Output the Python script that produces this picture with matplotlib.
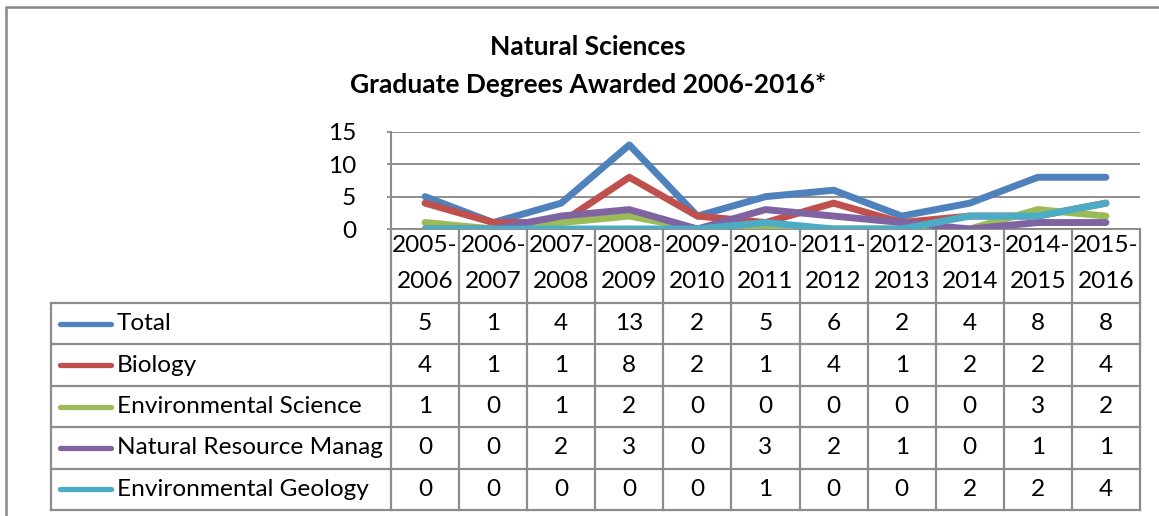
import matplotlib
matplotlib.use('Agg')
import matplotlib.pyplot as plt

plt.rcParams['font.family'] = ['Lato', 'DejaVu Sans']

# data
years = ['2005-\n2006', '2006-\n2007', '2007-\n2008', '2008-\n2009', '2009-\n2010', '2010-\n2011',
         '2011-\n2012', '2012-\n2013', '2013-\n2014', '2014-\n2015', '2015-\n2016']
total = [5, 1, 4, 13, 2, 5, 6, 2, 4, 8, 8]
biology = [4, 1, 1, 8, 2, 1, 4, 1, 2, 2, 4]
env_science = [1, 0, 1, 2, 0, 0, 0, 0, 0, 3, 2]
nat_resource = [0, 0, 2, 3, 0, 3, 2, 1, 0, 1, 1]
env_geology = [0, 0, 0, 0, 0, 1, 0, 0, 2, 2, 4]

series_names = ['Total', 'Biology', 'Environmental Science', 'Natural Resource Manag', 'Environmental Geology']
series_vals = [total, biology, env_science, nat_resource, env_geology]
colors = ['#4F81BD', '#C0504D', '#9BBB59', '#8064A2', '#4BACC6']

W, H = 1159, 516
fig = plt.figure(figsize=(W / 100, H / 100), dpi=100)

# overlay in pixel coords for the table and frame
ov = fig.add_axes([0, 0, 1, 1])
ov.set_xlim(0, W)
ov.set_ylim(H, 0)
ov.axis('off')

grid_c = '#868686'
line_c = '#8c8c8c'
fs = 17.6

# outer chart border (runs off the right and bottom)
ov.plot([6, 6, W + 10], [H + 10, 7, 7], color=grid_c, lw=1.8, solid_capstyle='butt')

# title
ov.text(588, 47, 'Natural Sciences', ha='center', va='center', fontsize=19, fontweight='bold')
ov.text(588, 85, 'Graduate Degrees Awarded 2006-2016*', ha='center', va='center', fontsize=19,
        fontweight='bold')

# plot area
left, right, top, bottom = 391, 1140, 132, 229
ax = fig.add_axes([left / W, 1 - bottom / H, (right - left) / W, (bottom - top) / H])
n = len(years)
for vals, c in zip(series_vals, colors):
    ax.plot(range(n), vals, color=c, lw=5, solid_capstyle='round', solid_joinstyle='round', zorder=3)
ax.set_xlim(-0.5, n - 0.5)
ax.set_ylim(0, 15)
ax.set_yticks([0, 5, 10, 15])
ax.set_xticks([])
ax.yaxis.grid(True, color=grid_c, lw=1.3)
ax.set_axisbelow(True)
for s in ['top', 'right', 'bottom']:
    ax.spines[s].set_visible(False)
ax.spines['left'].set_color(line_c)
ax.spines['left'].set_linewidth(1.5)
ax.tick_params(axis='y', length=3, width=1.3, color=line_c, labelsize=fs, pad=22)
ax.patch.set_alpha(0)

# data table
colw = (right - left) / n
leg_left = 51
head_bot = 303
row_h = (510 - head_bot) / len(series_names)
tlw = 1.6

# column lines
for i in range(n + 1):
    x = left + i * colw
    ov.plot([x, x], [bottom, 510], color=line_c, lw=tlw, solid_capstyle='projecting')
ov.plot([leg_left, leg_left], [head_bot, 510], color=line_c, lw=tlw, solid_capstyle='projecting')
# horizontal lines
ov.plot([left, right], [bottom, bottom], color=grid_c, lw=1.3)
for r in range(len(series_names) + 1):
    y = head_bot + r * row_h
    ov.plot([leg_left, right], [y, y], color=line_c, lw=tlw, solid_capstyle='projecting')

# header labels
for i, yr in enumerate(years):
    x = left + (i + 0.5) * colw
    top_line, bot_line = yr.split('\n')
    ov.text(x, 246, top_line, ha='center', va='center', fontsize=fs)
    ov.text(x, 282, bot_line, ha='center', va='center', fontsize=fs)

# rows
for r, (name, vals, c) in enumerate(zip(series_names, series_vals, colors)):
    yc = head_bot + (r + 0.5) * row_h
    ov.plot([60, 111], [yc, yc], color=c, lw=3.8, solid_capstyle='round')
    ov.text(117, yc, name, ha='left', va='center', fontsize=fs)
    for i, v in enumerate(vals):
        ov.text(left + (i + 0.5) * colw, yc, str(v), ha='center', va='center', fontsize=fs)

fig.savefig('out.png', dpi=100)
